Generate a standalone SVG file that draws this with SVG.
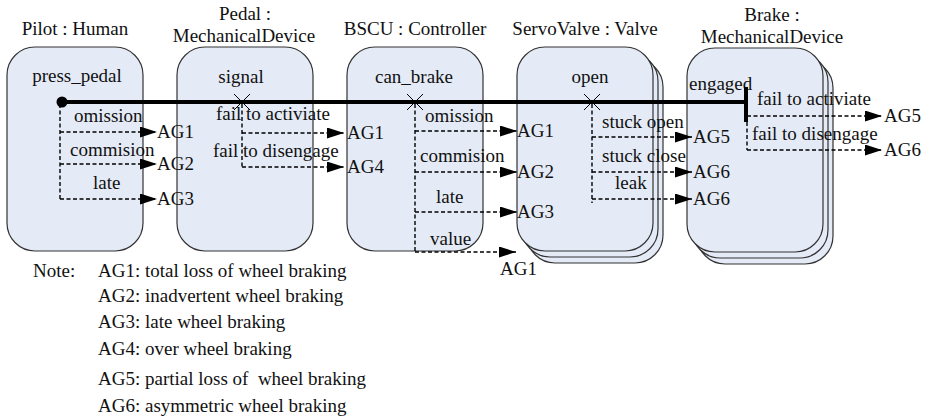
<svg xmlns="http://www.w3.org/2000/svg" width="928" height="418" viewBox="0 0 928 418">
  <style>
    text { font-family: 'Liberation Serif', 'Times New Roman', Times, 'Nimbus Roman', 'Noto Serif', FreeSerif, 'DejaVu Serif', Georgia, serif; font-size: 19px; fill: #111; }
    .box { fill: #e5ebf6; stroke: #333; stroke-width: 1.2; }
    .flow { fill: none; stroke: #000; stroke-width: 1.4; stroke-dasharray: 4 2.5; }
    .arrow { fill: none; stroke: #000; stroke-width: 1.4; stroke-dasharray: 4 2.5; marker-end: url(#head); }
    .bus { fill: none; stroke: #000; stroke-width: 4; }
    .cross { fill: none; stroke: #000; stroke-width: 1; }
    .mid { text-anchor: middle; }
  </style>
  <defs>
    <marker id="head" markerUnits="userSpaceOnUse" markerWidth="17" markerHeight="11" refX="17" refY="5.5" orient="auto">
      <path d="M0,0 L17,5.5 L0,11 Z" fill="#000"/>
    </marker>
  </defs>

  <!-- component nodes -->
  <g id="pilot">
    <text class="mid" x="75" y="35">Pilot : Human</text>
    <rect class="box" x="7" y="47" width="136" height="204" rx="28"/>
    <text class="mid" x="77" y="82">press_pedal</text>
  </g>

  <g id="pedal">
    <text class="mid" x="245" y="20">Pedal :</text>
    <text class="mid" x="244" y="42">MechanicalDevice</text>
    <rect class="box" x="177" y="47" width="136" height="204" rx="28"/>
    <text class="mid" x="241" y="83">signal</text>
  </g>

  <g id="bscu">
    <text class="mid" x="415" y="35">BSCU : Controller</text>
    <rect class="box" x="347" y="47" width="136" height="204" rx="28"/>
    <text class="mid" x="414" y="83">can_brake</text>
  </g>

  <g id="servovalve">
    <text class="mid" x="585" y="35">ServoValve : Valve</text>
    <rect class="box" x="527" y="59" width="136" height="204" rx="28"/>
    <rect class="box" x="522" y="53" width="136" height="204" rx="28"/>
    <rect class="box" x="517" y="47" width="136" height="204" rx="28"/>
    <text class="mid" x="590" y="83">open</text>
  </g>

  <g id="brake">
    <text class="mid" x="772" y="21">Brake :</text>
    <text class="mid" x="772" y="43">MechanicalDevice</text>
    <rect class="box" x="697" y="60" width="136" height="204" rx="28"/>
    <rect class="box" x="692" y="54" width="136" height="204" rx="28"/>
    <rect class="box" x="687" y="48" width="136" height="204" rx="28"/>
    <text x="689" y="90">engaged</text>
  </g>

  <!-- connectors -->
  <g id="connectors">
    <!-- main signal path -->
    <line class="bus" x1="62" y1="102" x2="746" y2="102"/>
    <circle cx="62" cy="102" r="5.5" fill="#000"/>
    <line class="bus" x1="746" y1="87" x2="746" y2="122"/>

    <!-- junction marks -->
    <path class="cross" d="M234,94 L250,110 M250,94 L234,110"/>
    <path class="cross" d="M407,94 L423,110 M423,94 L407,110"/>
    <path class="cross" d="M584,94 L600,110 M600,94 L584,110"/>

    <!-- Pilot failure modes -->
    <line class="flow" x1="60" y1="104" x2="60" y2="199"/>
    <line class="arrow" x1="60" y1="132" x2="157" y2="132"/>
    <line class="arrow" x1="60" y1="164" x2="157" y2="164"/>
    <line class="arrow" x1="60" y1="199" x2="157" y2="199"/>

    <!-- Pedal failure modes -->
    <line class="flow" x1="242" y1="104" x2="242" y2="167"/>
    <line class="arrow" x1="242" y1="133" x2="344" y2="133"/>
    <line class="arrow" x1="242" y1="167" x2="344" y2="167"/>

    <!-- BSCU failure modes -->
    <line class="flow" x1="415" y1="104" x2="415" y2="252"/>
    <line class="arrow" x1="415" y1="131" x2="517" y2="131"/>
    <line class="arrow" x1="415" y1="172" x2="517" y2="172"/>
    <line class="arrow" x1="415" y1="212" x2="517" y2="212"/>
    <line class="arrow" x1="415" y1="252" x2="516" y2="252"/>

    <!-- ServoValve failure modes -->
    <line class="flow" x1="592" y1="104" x2="592" y2="203"/>
    <line class="arrow" x1="592" y1="137" x2="692" y2="137"/>
    <line class="arrow" x1="592" y1="172" x2="692" y2="172"/>
    <line class="arrow" x1="592" y1="199" x2="692" y2="199"/>

    <!-- Brake failure modes -->
    <line class="flow" x1="747" y1="122" x2="747" y2="150"/>
    <line class="arrow" x1="747" y1="116" x2="882" y2="116"/>
    <line class="arrow" x1="747" y1="150" x2="882" y2="150"/>
  </g>

  <!-- failure mode labels -->
  <g id="labels">
    <text x="74" y="122">omission</text>
    <text x="70" y="156">commision</text>
    <text x="93" y="189">late</text>
    <text x="157" y="138">AG1</text>
    <text x="157" y="170">AG2</text>
    <text x="157" y="205">AG3</text>

    <text x="216" y="120">fail to activiate</text>
    <text x="213" y="157">fail to disengage</text>
    <text x="347" y="139">AG1</text>
    <text x="347" y="173">AG4</text>

    <text x="425" y="122">omission</text>
    <text x="420" y="162">commision</text>
    <text x="436" y="203">late</text>
    <text x="430" y="245">value</text>
    <text x="517" y="137">AG1</text>
    <text x="517" y="178">AG2</text>
    <text x="517" y="218">AG3</text>
    <text x="500" y="275">AG1</text>

    <text x="602" y="128">stuck open</text>
    <text x="602" y="162">stuck close</text>
    <text x="615" y="189">leak</text>
    <text x="693" y="143">AG5</text>
    <text x="693" y="178">AG6</text>
    <text x="693" y="205">AG6</text>

    <text x="757" y="105">fail to activiate</text>
    <text x="752" y="140">fail to disengage</text>
    <text x="884" y="122">AG5</text>
    <text x="884" y="156">AG6</text>
  </g>

  <!-- legend -->
  <g id="legend">
    <text x="33" y="277">Note:</text>
    <text x="98" y="277">AG1: total loss of wheel braking</text>
    <text x="98" y="302">AG2: inadvertent wheel braking</text>
    <text x="98" y="328">AG3: late wheel braking</text>
    <text x="98" y="355">AG4: over wheel braking</text>
    <text x="98" y="385" xml:space="preserve">AG5: partial loss of  wheel braking</text>
    <text x="98" y="412">AG6: asymmetric wheel braking</text>
  </g>
</svg>
